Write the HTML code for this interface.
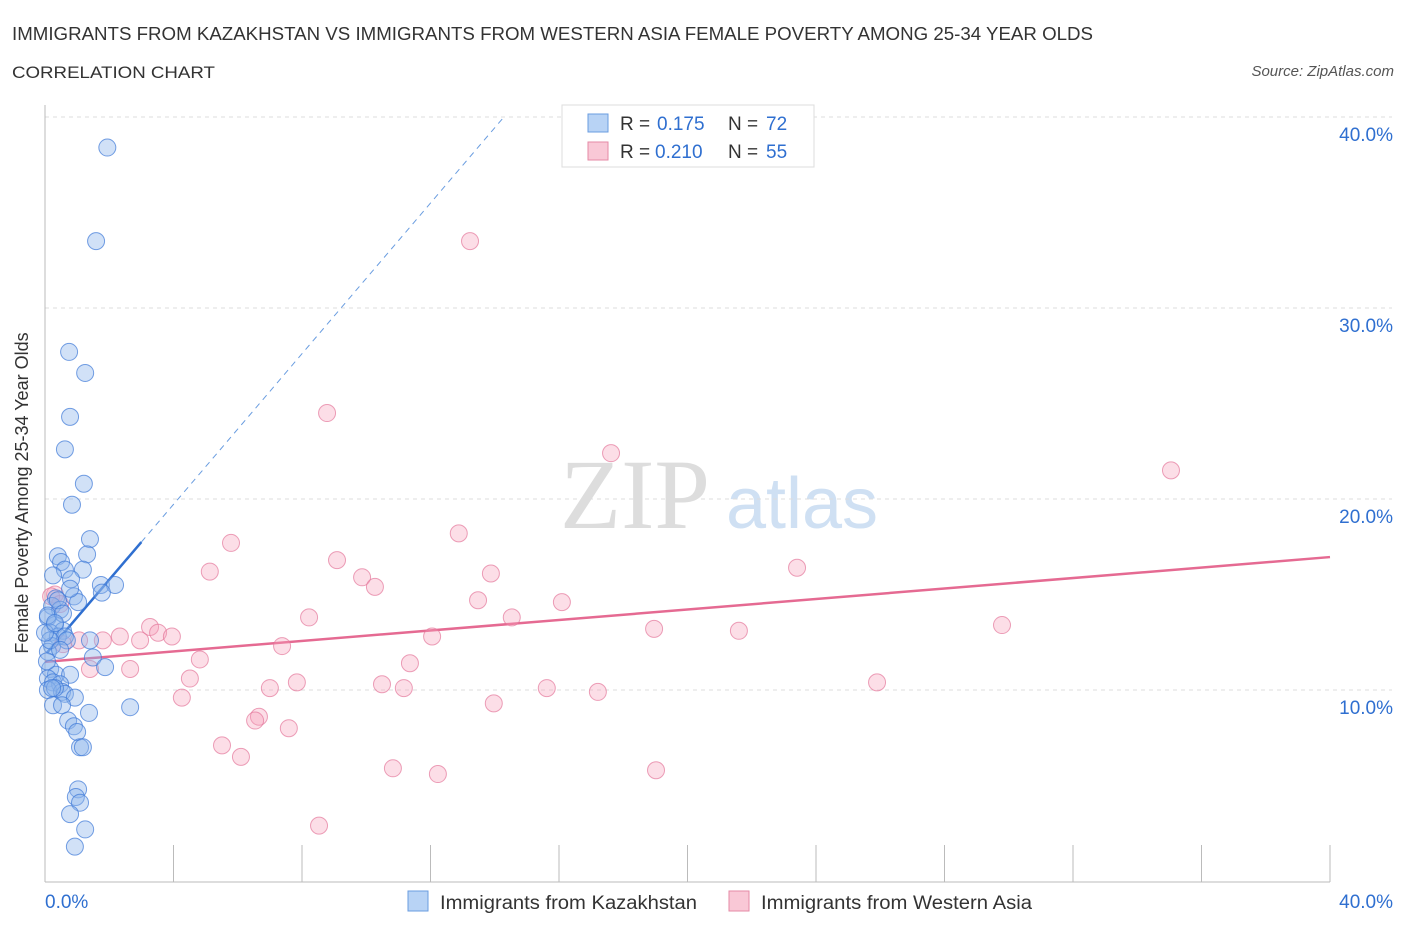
<!DOCTYPE html>
<html><head><meta charset="utf-8"><style>
body{margin:0;background:#fff;font-family:"Liberation Sans",sans-serif}
</style></head><body>
<svg id="c" width="1406" height="930" xmlns="http://www.w3.org/2000/svg" font-family="Liberation Sans, sans-serif">
<text x="12" y="40" font-size="18" fill="#333" textLength="1081" lengthAdjust="spacingAndGlyphs">IMMIGRANTS FROM KAZAKHSTAN VS IMMIGRANTS FROM WESTERN ASIA FEMALE POVERTY AMONG 25-34 YEAR OLDS</text>
<text x="12" y="78" font-size="17" fill="#333" textLength="203" lengthAdjust="spacingAndGlyphs">CORRELATION CHART</text>
<text x="1394" y="76" font-size="15" fill="#555" font-style="italic" text-anchor="end">Source: ZipAtlas.com</text>
<text x="635" y="528" font-size="100" fill="#ddd" style="font-family:'Liberation Serif',serif" text-anchor="middle">ZIP</text>
<text x="802" y="528" font-size="72" fill="#cfe0f3" text-anchor="middle">atlas</text>
<g id="grid"></g><g id="axes"></g><g id="lines"></g><g id="pts"></g>
<text x="28" y="493" font-size="18" fill="#333" text-anchor="middle" transform="rotate(-90 28 493)">Female Poverty Among 25-34 Year Olds</text>
<g>
<rect x="562" y="105" width="252" height="62" fill="#fff" stroke="#ddd"/>
<rect x="588" y="114" width="20" height="18" fill="#b8d3f5" stroke="#6a9de0"/>
<text x="620" y="130" font-size="19" fill="#333">R =</text><text x="657" y="130" font-size="19" fill="#2f6fd0">0.175</text>
<text x="728" y="130" font-size="19" fill="#333">N =</text><text x="766" y="130" font-size="19" fill="#2f6fd0">72</text>
<rect x="588" y="142" width="20" height="18" fill="#f9c8d6" stroke="#e58aa6"/>
<text x="620" y="158" font-size="19" fill="#333">R =</text><text x="655" y="158" font-size="19" fill="#2f6fd0">0.210</text>
<text x="728" y="158" font-size="19" fill="#333">N =</text><text x="766" y="158" font-size="19" fill="#2f6fd0">55</text>
</g>
<g>
<rect x="408" y="891" width="20" height="20" fill="#b8d3f5" stroke="#6a9de0"/>
<text x="440" y="909" font-size="19" fill="#333" textLength="257" lengthAdjust="spacingAndGlyphs">Immigrants from Kazakhstan</text>
<rect x="729" y="891" width="20" height="20" fill="#f9c8d6" stroke="#e58aa6"/>
<text x="761" y="909" font-size="19" fill="#333" textLength="271" lengthAdjust="spacingAndGlyphs">Immigrants from Western Asia</text>
</g>
</svg>
<script>
const blueX=[1.94,1.59,0.75,1.25,0.78,0.62,1.21,0.84,1.40,0.40,1.31,0.50,0.62,1.18,0.81,1.74,2.18,1.77,0.90,0.34,1.03,0.22,0.47,0.09,0.31,0.56,0.16,0.40,0.62,1.40,0.22,0.09,1.49,1.87,0.16,0.34,0.78,0.09,0.25,0.47,0.09,0.53,0.62,0.93,0.25,0.53,1.37,2.65,0.72,0.90,1.00,1.09,1.18,1.03,0.96,1.09,0.78,1.25,0.93,0.16,0.06,0.31,0.40,0.25,0.68,0.00,0.09,0.22,0.47,0.56,0.78,0.31];
const blueY=[38.4,33.5,27.7,26.6,24.3,22.6,20.8,19.7,17.9,17.0,17.1,16.7,16.3,16.3,15.8,15.5,15.5,15.1,14.9,14.8,14.6,14.4,14.2,13.8,13.4,13.1,13.0,12.8,12.8,12.6,12.3,12.0,11.7,11.2,11.1,10.8,10.8,10.6,10.4,10.3,10.0,9.9,9.8,9.6,9.2,9.2,8.8,9.1,8.4,8.1,7.8,7.0,7.0,4.8,4.4,4.1,3.5,2.7,1.8,12.6,11.5,10.1,14.7,16.0,12.6,13.0,13.9,10.1,12.1,14.0,15.3,13.5];
const pinkX=[13.23,8.78,17.62,35.05,12.88,5.79,9.09,23.41,5.13,13.88,9.87,10.27,13.48,16.09,8.22,14.53,18.96,21.60,29.79,3.27,3.52,3.95,2.33,2.96,1.80,1.06,12.05,7.38,0.56,0.31,0.19,0.47,4.82,11.36,2.65,1.40,4.51,7.84,7.00,10.49,11.17,15.62,17.21,25.90,4.26,13.97,6.66,6.54,7.59,5.51,6.10,10.83,12.23,19.02,8.53];
const pinkY=[33.5,24.5,22.4,21.5,18.2,17.7,16.8,16.4,16.2,16.1,15.9,15.4,14.7,14.6,13.8,13.8,13.2,13.1,13.4,13.3,13.0,12.8,12.8,12.6,12.6,12.6,12.8,12.3,12.4,15.0,14.9,14.5,11.6,11.4,11.1,11.1,10.6,10.4,10.1,10.3,10.1,10.1,9.9,10.4,9.6,9.3,8.6,8.4,8.0,7.1,6.5,5.9,5.6,5.8,2.9];
const yTicks=[10,20,30,40];
const blueTrend=[11.83,1.972], pinkTrend=[11.47,16.96];
const X=v=>45+v/40*1285, Y=v=>881-v*19.1;
const NS="http://www.w3.org/2000/svg";
function mk(p,t,a){const e=document.createElementNS(NS,t);for(const k in a)e.setAttribute(k,a[k]);document.getElementById(p).appendChild(e);return e;}
yTicks.forEach(t=>{
 const g=mk('grid','line',{x1:45,x2:1392,y1:Y(t),y2:Y(t),stroke:'#ddd','stroke-dasharray':'4 4'});
 
 
 const l=mk('axes','text',{x:1393,y:Y(t)+24,'font-size':19,fill:'#2f6fd0','text-anchor':'end'});
 l.textContent=t.toFixed(1)+'%';
 
 
});
const ax=mk('axes','line',{x1:45,x2:45,y1:105,y2:882,stroke:'#bbb'});


const bx=mk('axes','line',{x1:45,x2:1330,y1:882,y2:882,stroke:'#bbb'});


for(let i=1;i<=10;i++){const tk=mk('axes','line',{x1:X(i*4),x2:X(i*4),y1:845,y2:882,stroke:'#bbb'});
 
 }
[[0,'0.0%','start',45],[40,'40.0%','end',1393]].forEach(([v,s,a,x])=>{const t=mk('axes','text',{x:x,y:908,'font-size':19,fill:'#2f6fd0','text-anchor':a});t.textContent=s;
 
 });
pinkX.forEach((x,i)=>{const c=mk('pts','circle',{cx:X(x),cy:Y(pinkY[i]),r:8.5,fill:'rgba(245,160,185,0.35)',stroke:'rgba(228,120,155,0.7)','stroke-width':1});
 
 });
blueX.forEach((x,i)=>{const c=mk('pts','circle',{cx:X(x),cy:Y(blueY[i]),r:8.5,fill:'rgba(140,180,235,0.4)',stroke:'rgba(60,120,215,0.7)','stroke-width':1});
 
 });
const bEnd=3.0, bDash=14.25;
const l1=mk('lines','line',{x1:X(0.06),y1:Y(blueTrend[0]+blueTrend[1]*0.06),x2:X(bEnd),y2:Y(blueTrend[0]+blueTrend[1]*bEnd),stroke:'#2f6fd0','stroke-width':2.5});


const l2=mk('lines','line',{x1:X(bEnd),y1:Y(blueTrend[0]+blueTrend[1]*bEnd),x2:X(bDash),y2:Y(blueTrend[0]+blueTrend[1]*bDash),stroke:'#6a9de0','stroke-width':1,'stroke-dasharray':'6 5'});


const l3=mk('lines','line',{x1:X(0),y1:Y(pinkTrend[0]),x2:X(40),y2:Y(pinkTrend[1]),stroke:'#e56a92','stroke-width':2.5});


</script>
</body></html>
